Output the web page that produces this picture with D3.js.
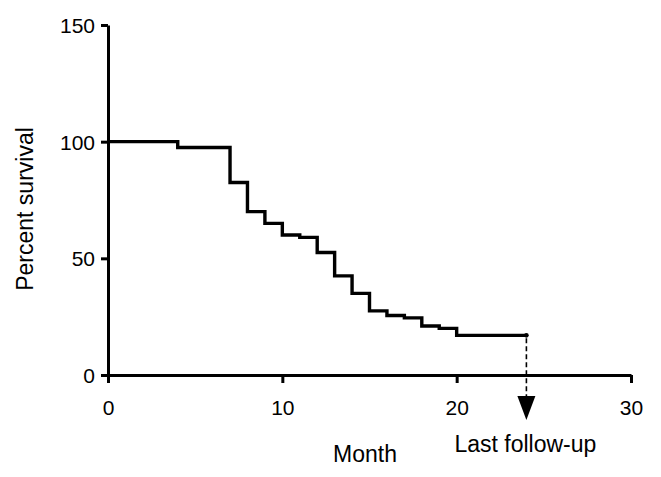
<!DOCTYPE html>
<html>
<head>
<meta charset="utf-8">
<script src="https://cdn.jsdelivr.net/npm/d3@7"></script>
<style>
  body { margin: 0; background: #fff; }
  text { font-family: "Liberation Sans", Arial, Helvetica, sans-serif; fill: #000; }
</style>
</head>
<body>
<div id="chart"></div>
<script>
// step start months and survival %
const months = [0, 4, 7, 8, 9, 10, 11, 12, 13, 14, 15, 16, 17, 18, 19, 20, 24];
const survival = [100, 97.5, 82.5, 70, 65, 60, 59, 52.5, 42.5, 35, 27.5, 25.5, 24.5, 21, 20, 17, 17];
const xTicks = [0, 10, 20, 30];
const yTicks = [0, 50, 100, 150];
const lastFollowUp = 24;

const W = 661, H = 477;
const margin = { top: 25, right: 30, bottom: 102, left: 108 };

const svg = d3.select("#chart").append("svg")
    .attr("width", W)
    .attr("height", H);

const x = d3.scaleLinear().domain([0, 30]).range([margin.left, W - margin.right]);
const y = d3.scaleLinear().domain([0, 150]).range([H - margin.bottom, margin.top]);

// axes
const xAxis = svg.append("g")
    .attr("transform", `translate(0, ${y(0)})`)
    .call(d3.axisBottom(x).tickValues(xTicks).tickSize(8).tickSizeOuter(0).tickPadding(17));

const yAxis = svg.append("g")
    .attr("transform", `translate(${x(0)}, 0)`)
    .call(d3.axisLeft(y).tickValues(yTicks).tickSize(7).tickSizeOuter(0).tickPadding(6));

[xAxis, yAxis].forEach(a => {
    a.select(".domain").attr("stroke", "#000").attr("stroke-width", 3);
    a.selectAll(".tick line").attr("stroke", "#000").attr("stroke-width", 3);
    a.selectAll(".tick text").style("font-size", "21px").attr("fill", "#000");
});
yAxis.selectAll(".tick text").attr("dy", "0.36em");

// survival curve
const data = months.map((m, i) => ({ m: m, s: survival[i] }));
const line = d3.line()
    .x(d => x(d.m))
    .y(d => y(d.s))
    .curve(d3.curveStepAfter);

svg.append("path")
    .datum(data)
    .attr("d", line)
    .attr("fill", "none")
    .attr("stroke", "#000")
    .attr("stroke-width", 3.4)
    .attr("stroke-linejoin", "miter");

// censor mark at end
const last = data[data.length - 1];
svg.append("circle")
    .attr("cx", x(last.m))
    .attr("cy", y(last.s))
    .attr("r", 2.3)
    .attr("fill", "#000");

// last follow-up marker
svg.append("line")
    .attr("x1", x(lastFollowUp))
    .attr("x2", x(lastFollowUp))
    .attr("y1", y(last.s) + 3)
    .attr("y2", y(0) + 21)
    .attr("stroke", "#000")
    .attr("stroke-width", 1.6)
    .attr("stroke-dasharray", "5,3");

const ax = x(lastFollowUp), ay = y(0) + 21;
svg.append("path")
    .attr("d", `M${ax - 9},${ay} L${ax + 9},${ay} L${ax},${ay + 24} Z`)
    .attr("fill", "#000");

svg.append("text")
    .attr("x", ax - 1)
    .attr("y", 452)
    .attr("text-anchor", "middle")
    .style("font-size", "23px")
    .text("Last follow-up");

// axis titles
svg.append("text")
    .attr("x", 365)
    .attr("y", 462)
    .attr("text-anchor", "middle")
    .style("font-size", "23px")
    .text("Month");

svg.append("text")
    .attr("transform", `translate(33, ${209}) rotate(-90)`)
    .attr("text-anchor", "middle")
    .style("font-size", "23px")
    .text("Percent survival");
</script>
</body>
</html>
